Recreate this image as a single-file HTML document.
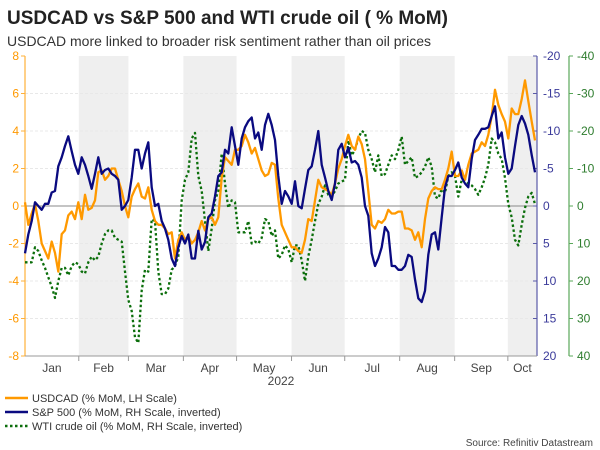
<!DOCTYPE html>
<html><head><meta charset="utf-8"><style>
body{margin:0;background:#fff;width:600px;height:450px;overflow:hidden;font-family:"Liberation Sans",sans-serif}
</style></head><body>
<svg id="c" width="600" height="450" style="position:absolute;left:0;top:0">
<text x="7" y="24" font-size="19" font-weight="bold" fill="#222">USDCAD vs S&amp;P 500 and WTI crude oil ( % MoM)</text>
<text x="7" y="46" font-size="14" fill="#333">USDCAD more linked to broader risk sentiment rather than oil prices</text>
<g id="bg"></g><g id="grid"></g><g id="axes"></g><g id="series"></g>
<g font-size="11" fill="#333">
<line x1="5" y1="398" x2="28" y2="398" stroke="#ff9900" stroke-width="2.5"/>
<text x="32" y="402">USDCAD (% MoM, LH Scale)</text>
<line x1="5" y1="412" x2="28" y2="412" stroke="#0a0a80" stroke-width="2.5"/>
<text x="32" y="416">S&amp;P 500 (% MoM, RH Scale, inverted)</text>
<line x1="5" y1="426" x2="28" y2="426" stroke="#0b6e0b" stroke-width="2.5" stroke-dasharray="2.5,2.5"/>
<text x="32" y="430">WTI crude oil (% MoM, RH Scale, inverted)</text>
</g>
<text x="593" y="446" font-size="10" fill="#444" text-anchor="end">Source: Refinitiv Datastream</text>
</svg>
<script>
const months=["Jan","Feb","Mar","Apr","May","Jun","Jul","Aug","Sep","Oct"];
const monthStartDays=[1,32,60,91,121,152,182,213,244,274];
const leftTicks=[8,6,4,2,0,-2,-4,-6,-8];
const navyTicks=[-20,-15,-10,-5,0,5,10,15,20];
const greenTicks=[-40,-30,-20,-10,0,10,20,30,40];
const startDay=1.67, stepDays=1.88;
const usdcad=[0.2,-1.0,-0.4,0.1,-0.8,-2.0,-2.4,-2.8,-1.9,-2.5,-3.5,-1.5,-1.3,-0.5,-0.3,-0.7,0.2,-0.7,0.6,-0.2,-0.1,0.3,1.8,1.9,1.4,1.6,2.0,2.0,1.4,0.8,0.0,-0.6,0.5,0.9,1.2,0.5,0.4,1.0,-0.2,-0.8,-1.0,-1.0,-1.2,-1.5,-1.4,-2.8,-1.8,-1.4,-1.8,-1.6,-2.0,-1.8,-1.4,-0.8,-1.3,-0.7,-0.6,-1.0,-0.6,1.5,2.6,2.4,2.2,3.0,3.0,3.2,3.8,3.4,2.8,3.1,2.5,1.9,1.6,1.7,2.3,2.2,0.4,-1.0,-1.4,-1.8,-2.2,-2.2,-2.4,
-2.5,-1.8,-0.7,-0.8,0.3,1.4,1.0,0.9,0.8,0.6,1.2,2.0,2.5,3.2,3.8,3.2,3.0,3.7,3.3,2.5,0.8,-1.0,-1.2,-0.8,-0.9,-0.7,-0.2,-0.4,-0.4,-0.3,-0.3,-1.2,-1.2,-1.3,-1.8,-1.4,-2.2,-0.7,0.4,0.8,1.0,0.9,0.9,1.4,2.0,2.9,1.6,1.6,1.9,1.4,2.2,2.8,2.9,3.0,3.4,3.2,3.8,4.8,6.2,5.4,4.9,4.5,3.6,5.2,4.9,4.9,5.7,6.7,5.6,4.5,3.5];
const sp500=[6.3,3.8,2,-0.5,0,0.5,-0.3,-0.3,-1.8,-2,-5.3,-6.5,-8,-9.3,-7.3,-5.5,-4.3,-6.5,-5.5,-4,-2.3,-4.3,-6.5,-4.3,-4.8,-5,-4.3,-4,-3.5,0.5,0,-0.8,-3.8,-7.5,-7.5,-5,-7,-8.5,-2.5,0,-0.3,2,3,4.5,7,8,5.5,4,5,3.8,7,7,3.3,5.8,4.8,1.5,1,-1.3,-4,-4.5,-7.5,-7,-10.5,-8,-5.5,-9,-10.5,-11.3,-11.8,-9,-9.8,-7.5,-10.8,-12.3,-10.8,-8.8,-4,-0.3,-2,-1.3,-0.3,-3.3,0,
0.3,-2.3,-4.8,-5.3,-7.5,-10,-5.5,-3.8,-2,-0.8,-3,-7.5,-8.3,-6.5,-7.8,-5.8,-6,-5.5,-3.8,0,1.3,6.3,8,7,5.5,2.8,3.5,8,8,8.5,8.5,8,6.5,6.8,9.8,12.3,12.8,11.3,6.5,3.8,3.5,5.8,1.5,-2.5,-4,-4,-4.8,-5.8,-3.8,-3,-2.5,-6.3,-8.8,-9.5,-10.3,-10.3,-10.5,-12,-13.3,-9,-9.8,-6.5,-4.3,-5,-8,-10.8,-12,-11,-9.5,-6.8,-4.5];
const wti=[15,15,15,11,12,14.5,16.5,19,21.5,24.5,20,16.5,16.5,18.5,16,15,15.5,17.5,18,15,13.5,14.5,13.5,10,7.5,6.5,6.5,8.5,9,9.5,17.5,25,28,35,36.5,22.5,17,17.5,3.5,4,17.5,23.5,23.5,22,17,16,13.5,-1.5,-7,-9,-18,-19.5,-8,-4,4,12,6,-1.5,-4,-14,-6,0.5,-1.5,-1,7,7,7,4,10,9.5,10,8.5,3.5,4,8,6.5,14,13,10.5,11.5,15,10.5,10.5,
14.5,20,13.5,9,4,-0.5,-2.5,-5.5,-3,-2.5,-4,-6,-6.5,-7,-17.5,-13.5,-15,-18,-20,-19.5,-15,-12.5,-9,-13.5,-8,-8.5,-11,-13.5,-12.5,-15,-18.5,-11,-12,-13,-7.5,-8,-9,-10.5,-13,-10.5,-2.5,-2,-4.5,-3.5,-8,-9,-8,-2.5,-7,-7,-6,-5.5,-4.5,-3,-5,-7.5,-11,-18,-17,-14,-12.5,-7.5,-0.5,3,9,10.5,5,0.5,-2.5,-3.5,-0.5];

const X0=25,X1=537,Y0=56,Y1=356,NS="http://www.w3.org/2000/svg";
const xDay=d=>X0+(d-startDay)*1.773;
const yL=v=>Y0+(8-v)/16*(Y1-Y0);
const yN=v=>Y0+(v+20)/40*(Y1-Y0);
const yG=v=>Y0+(v+40)/80*(Y1-Y0);
function mk(tag,attrs,parent,txt){const e=document.createElementNS(NS,tag);for(const k in attrs)e.setAttribute(k,attrs[k]);if(txt!==undefined)e.textContent=txt;document.getElementById(parent).appendChild(e);return e;}
months.forEach((m,i)=>{
  const a=Math.max(X0,xDay(monthStartDays[i])),b=i<months.length-1?xDay(monthStartDays[i+1]):X1;
  if(i%2==1){const r=mk('rect',{x:a,y:Y0,width:Math.min(b,X1)-a,height:Y1-Y0,fill:'#efefef'},'bg');
    
    }
  if(i>0){mk('line',{x1:a,y1:Y1,x2:a,y2:Y1+5,stroke:'#999'},'axes');}
  const t=mk('text',{x:(a+Math.min(b,X1))/2,y:Y1+16,'font-size':12,fill:'#444','text-anchor':'middle'},'axes',m);
  
  
});
const yr=mk('text',{x:281,y:385,'font-size':12,fill:'#444','text-anchor':'middle'},'axes','2022');


leftTicks.forEach(v=>{
  const y=yL(v);
  if(v!==8&&v!==-8)mk('line',{x1:X0,y1:y,x2:X1,y2:y,stroke:v===0?'#8a8a8a':'#e8e8e8','stroke-width':1,'stroke-dasharray':v===0?'':'3,2'},'grid');
  mk('line',{x1:X0-4,y1:y,x2:X0,y2:y,stroke:'#ffb03a'},'axes');
  const t=mk('text',{x:19,y:y+4,'font-size':12,fill:'#ff9900','text-anchor':'end'},'axes',String(v));
  
  
});
navyTicks.forEach(v=>{const y=yN(v);mk('line',{x1:X1-4,y1:y,x2:X1,y2:y,stroke:'#5a5aa8'},'axes');
  const t=mk('text',{x:543,y:y+4,'font-size':12,fill:'#3a3a9a'},'axes',String(v));
  
  });
greenTicks.forEach(v=>{const y=yG(v);mk('line',{x1:569,y1:y,x2:573,y2:y,stroke:'#5aa85a'},'axes');
  const t=mk('text',{x:577,y:y+4,'font-size':12,fill:'#2e7d2e'},'axes',String(v));
  
  });
mk('line',{x1:X0,y1:Y0,x2:X0,y2:Y1,stroke:'#ffb03a','stroke-width':1.2},'axes');
mk('line',{x1:X1,y1:Y0,x2:X1,y2:Y1,stroke:'#5a5aa8','stroke-width':1.2},'axes');
mk('line',{x1:569,y1:Y0,x2:569,y2:Y1,stroke:'#5aa85a','stroke-width':1.2},'axes');
mk('line',{x1:X0,y1:Y1,x2:X1,y2:Y1,stroke:'#999'},'axes');
function line(arr,yf,col,dash,name){
  const pts=arr.map((v,i)=>xDay(startDay+i*stepDays).toFixed(1)+','+yf(v).toFixed(1)).join(' ');
  const p=mk('polyline',{points:pts,fill:'none',stroke:col,'stroke-width':2.3,'stroke-linejoin':'round','stroke-dasharray':dash},'series');
  
  
}
line(wti,yG,'#0b6e0b','2.5,2.5','wti-line');
line(usdcad,yL,'#ff9900','','usdcad-line');
line(sp500,yN,'#0a0a80','','sp500-line');
</script>
</body></html>
